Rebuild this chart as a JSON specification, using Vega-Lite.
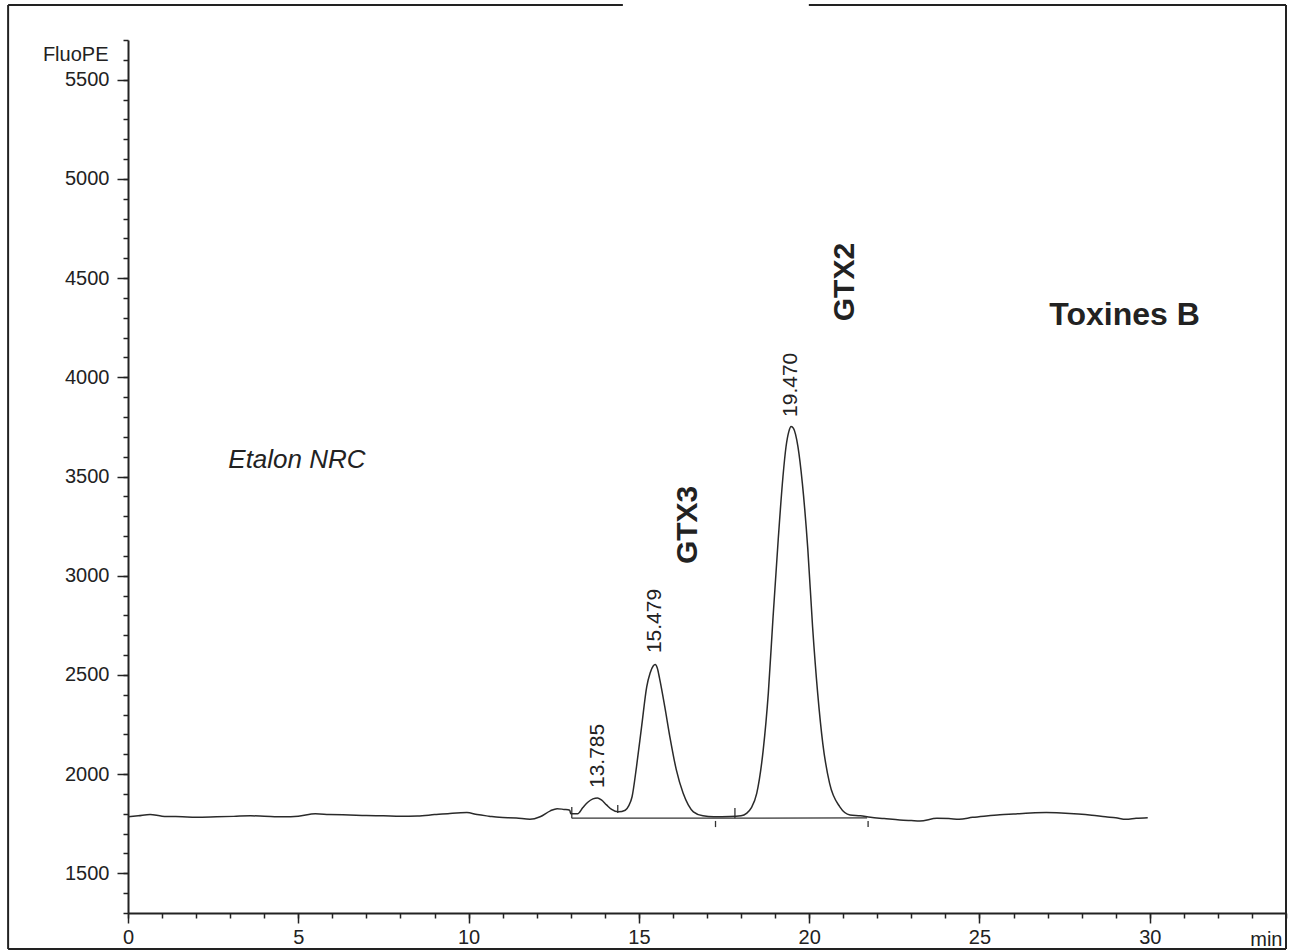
{
  "$schema": "https://vega.github.io/schema/vega-lite/v6.json",
  "width": 1158,
  "height": 873,
  "autosize": {"type": "none"},
  "padding": {"left": 128, "top": 40, "right": 10, "bottom": 38},
  "background": "white",
  "config": {
    "view": {"stroke": null},
    "font": "Liberation Sans",
    "text": {"color": "#222", "font": "Liberation Sans"}
  },
  "datasets": {
    "signal": [
      {"t": 0, "v": 1785}, {"t": 0.3, "v": 1790}, {"t": 0.65, "v": 1797}, {"t": 1.0, "v": 1788},
      {"t": 1.6, "v": 1785}, {"t": 2.0, "v": 1783}, {"t": 2.6, "v": 1785}, {"t": 3.1, "v": 1787},
      {"t": 3.6, "v": 1790}, {"t": 4.0, "v": 1788}, {"t": 4.55, "v": 1785}, {"t": 5.0, "v": 1788},
      {"t": 5.5, "v": 1800}, {"t": 5.9, "v": 1797}, {"t": 6.5, "v": 1794}, {"t": 7.0, "v": 1791},
      {"t": 7.5, "v": 1790}, {"t": 8.0, "v": 1788}, {"t": 8.5, "v": 1789}, {"t": 9.0, "v": 1796},
      {"t": 9.45, "v": 1802}, {"t": 9.95, "v": 1806}, {"t": 10.25, "v": 1796}, {"t": 10.6, "v": 1788},
      {"t": 10.9, "v": 1782}, {"t": 11.4, "v": 1779}, {"t": 11.8, "v": 1772}, {"t": 12.1, "v": 1785},
      {"t": 12.4, "v": 1815}, {"t": 12.6, "v": 1826}, {"t": 12.8, "v": 1822}, {"t": 12.97, "v": 1818},
      {"t": 13.0, "v": 1800}, {"t": 13.2, "v": 1800}, {"t": 13.35, "v": 1830}, {"t": 13.5, "v": 1858},
      {"t": 13.65, "v": 1875}, {"t": 13.785, "v": 1880}, {"t": 13.9, "v": 1870}, {"t": 14.05, "v": 1845},
      {"t": 14.2, "v": 1822}, {"t": 14.4, "v": 1810}, {"t": 14.6, "v": 1818}, {"t": 14.7, "v": 1840},
      {"t": 14.8, "v": 1886}, {"t": 14.93, "v": 2037}, {"t": 15.08, "v": 2239}, {"t": 15.23, "v": 2440},
      {"t": 15.33, "v": 2510}, {"t": 15.42, "v": 2545}, {"t": 15.479, "v": 2552}, {"t": 15.54, "v": 2535},
      {"t": 15.61, "v": 2480}, {"t": 15.76, "v": 2340},
      {"t": 15.91, "v": 2188}, {"t": 16.1, "v": 2021}, {"t": 16.3, "v": 1903}, {"t": 16.45, "v": 1845},
      {"t": 16.6, "v": 1810}, {"t": 16.88, "v": 1790}, {"t": 17.2, "v": 1785}, {"t": 17.67, "v": 1786},
      {"t": 18.0, "v": 1790}, {"t": 18.16, "v": 1802}, {"t": 18.3, "v": 1830}, {"t": 18.46, "v": 1903},
      {"t": 18.65, "v": 2121}, {"t": 18.8, "v": 2407}, {"t": 18.94, "v": 2793}, {"t": 19.09, "v": 3180},
      {"t": 19.23, "v": 3499}, {"t": 19.32, "v": 3650}, {"t": 19.4, "v": 3725}, {"t": 19.47, "v": 3752},
      {"t": 19.54, "v": 3742}, {"t": 19.6, "v": 3712},
      {"t": 19.67, "v": 3650}, {"t": 19.8, "v": 3465}, {"t": 19.96, "v": 3134}, {"t": 20.1, "v": 2743},
      {"t": 20.25, "v": 2407}, {"t": 20.4, "v": 2154}, {"t": 20.6, "v": 1953}, {"t": 20.9, "v": 1835},
      {"t": 21.2, "v": 1794}, {"t": 21.5, "v": 1790}, {"t": 21.8, "v": 1782}, {"t": 22.2, "v": 1776},
      {"t": 22.66, "v": 1769}, {"t": 23.0, "v": 1766}, {"t": 23.25, "v": 1764}, {"t": 23.75, "v": 1777},
      {"t": 24.1, "v": 1776}, {"t": 24.4, "v": 1772}, {"t": 24.8, "v": 1782}, {"t": 25.2, "v": 1789},
      {"t": 25.6, "v": 1795}, {"t": 26.0, "v": 1799}, {"t": 26.5, "v": 1804}, {"t": 26.96, "v": 1806},
      {"t": 27.4, "v": 1804}, {"t": 27.9, "v": 1799}, {"t": 28.3, "v": 1793}, {"t": 28.7, "v": 1785},
      {"t": 29.0, "v": 1780}, {"t": 29.3, "v": 1772}, {"t": 29.6, "v": 1777}, {"t": 29.94, "v": 1780}
    ],
    "integration": [
      {"t": 13.03, "t2": 21.7, "v": 1778, "v2": 1779},
      {"t": 13.03, "t2": 13.03, "v": 1778, "v2": 1834},
      {"t": 14.38, "t2": 14.38, "v": 1804, "v2": 1844},
      {"t": 17.25, "t2": 17.25, "v": 1733, "v2": 1764},
      {"t": 17.82, "t2": 17.82, "v": 1778, "v2": 1829},
      {"t": 21.73, "t2": 21.73, "v": 1733, "v2": 1764}
    ],
    "frame": [
      {"x": -3.52, "x2": -3.52, "y": 1118, "y2": 5876},
      {"x": -3.52, "x2": 34, "y": 1118, "y2": 1118},
      {"x": 34, "x2": 34, "y": 1118, "y2": 5876},
      {"x": -3.52, "x2": 14.53, "y": 5876, "y2": 5876},
      {"x": 19.99, "x2": 34, "y": 5876, "y2": 5876}
    ],
    "peaks": [
      {"t": 13.785, "v": 1930, "label": "13.785"},
      {"t": 15.479, "v": 2610, "label": "15.479"},
      {"t": 19.47, "v": 3800, "label": "19.470"}
    ],
    "compounds": [
      {"t": 16.44, "v": 3256, "label": "GTX3"},
      {"t": 21.05, "v": 4480, "label": "GTX2"}
    ],
    "sample": [{"t": 4.96, "v": 3583, "label": "Etalon NRC"}],
    "group": [{"t": 29.26, "v": 4314, "label": "Toxines B"}]
  },
  "layer": [
    {
      "data": {"name": "frame"},
      "mark": {"type": "rule", "color": "#222", "strokeWidth": 2},
      "encoding": {
        "x": {"field": "x", "type": "quantitative", "scale": {"domain": [0, 34], "nice": false, "zero": false}, "axis": null},
        "x2": {"field": "x2"},
        "y": {"field": "y", "type": "quantitative", "scale": {"domain": [1300, 5700], "nice": false, "zero": false}, "axis": null},
        "y2": {"field": "y2"}
      }
    },
    {
      "data": {"name": "integration"},
      "mark": {"type": "rule", "color": "#333", "strokeWidth": 1.3},
      "encoding": {
        "x": {"field": "t", "type": "quantitative", "scale": {"domain": [0, 34], "nice": false, "zero": false},
          "axis": {"orient": "bottom", "values": [0,1,2,3,4,5,6,7,8,9,10,11,12,13,14,15,16,17,18,19,20,21,22,23,24,25,26,27,28,29,30,31,32,33,34], "tickSize": 5, "tickWidth": 1.5, "tickColor": "#222", "labels": false, "domain": false, "grid": false, "title": null}},
        "x2": {"field": "t2"},
        "y": {"field": "v", "type": "quantitative", "scale": {"domain": [1300, 5700], "nice": false, "zero": false},
          "axis": {"orient": "left", "values": [1300,1400,1500,1600,1700,1800,1900,2000,2100,2200,2300,2400,2500,2600,2700,2800,2900,3000,3100,3200,3300,3400,3500,3600,3700,3800,3900,4000,4100,4200,4300,4400,4500,4600,4700,4800,4900,5000,5100,5200,5300,5400,5500,5600,5700], "tickSize": 5, "tickWidth": 1.5, "tickColor": "#222", "labels": false, "domain": false, "grid": false, "title": null}},
        "y2": {"field": "v2"}
      }
    },
    {
      "data": {"name": "signal"},
      "mark": {"type": "line", "color": "#2a2a2a", "strokeWidth": 1.5, "interpolate": "monotone"},
      "encoding": {
        "x": {"field": "t", "type": "quantitative", "scale": {"domain": [0, 34], "nice": false, "zero": false},
          "axis": {"orient": "bottom", "values": [0, 5, 10, 15, 20, 25, 30], "format": "d", "tickSize": 10, "tickWidth": 1.5, "tickColor": "#222", "domainColor": "#222", "domainWidth": 2, "labelFontSize": 20, "labelColor": "#222", "labelPadding": 4, "labelFlush": false, "labelOverlap": false, "grid": false,
            "title": "min", "titleFontSize": 20, "titleFontWeight": "normal", "titleColor": "#222", "titleAnchor": null, "titleX": 1154, "titleY": 32, "titleAlign": "right", "titleBaseline": "alphabetic"}},
        "y": {"field": "v", "type": "quantitative", "scale": {"domain": [1300, 5700], "nice": false, "zero": false},
          "axis": {"orient": "left", "values": [1500, 2000, 2500, 3000, 3500, 4000, 4500, 5000, 5500], "format": "d", "tickSize": 11, "tickWidth": 1.5, "tickColor": "#222", "domainColor": "#222", "domainWidth": 2, "labelFontSize": 20, "labelColor": "#222", "labelPadding": 8, "labelFlush": false, "labelOverlap": false, "grid": false,
            "title": "FluoPE", "titleFontSize": 20, "titleFontWeight": "normal", "titleColor": "#222", "titleAngle": 0, "titleAnchor": null, "titleX": -20, "titleY": 14, "titleAlign": "right", "titleBaseline": "middle"}}
      }
    },
    {
      "data": {"name": "peaks"},
      "mark": {"type": "text", "angle": 270, "align": "left", "baseline": "middle", "fontSize": 21},
      "encoding": {
        "x": {"field": "t", "type": "quantitative", "scale": {"domain": [0, 34], "nice": false, "zero": false}, "axis": null},
        "y": {"field": "v", "type": "quantitative", "scale": {"domain": [1300, 5700], "nice": false, "zero": false}, "axis": null},
        "text": {"field": "label"}
      }
    },
    {
      "data": {"name": "compounds"},
      "mark": {"type": "text", "angle": 270, "align": "center", "baseline": "middle", "fontSize": 30, "fontWeight": "bold"},
      "encoding": {
        "x": {"field": "t", "type": "quantitative", "scale": {"domain": [0, 34], "nice": false, "zero": false}, "axis": null},
        "y": {"field": "v", "type": "quantitative", "scale": {"domain": [1300, 5700], "nice": false, "zero": false}, "axis": null},
        "text": {"field": "label"}
      }
    },
    {
      "data": {"name": "sample"},
      "mark": {"type": "text", "align": "center", "baseline": "middle", "fontSize": 26, "fontStyle": "italic"},
      "encoding": {
        "x": {"field": "t", "type": "quantitative", "scale": {"domain": [0, 34], "nice": false, "zero": false}, "axis": null},
        "y": {"field": "v", "type": "quantitative", "scale": {"domain": [1300, 5700], "nice": false, "zero": false}, "axis": null},
        "text": {"field": "label"}
      }
    },
    {
      "data": {"name": "group"},
      "mark": {"type": "text", "align": "center", "baseline": "middle", "fontSize": 32, "fontWeight": "bold"},
      "encoding": {
        "x": {"field": "t", "type": "quantitative", "scale": {"domain": [0, 34], "nice": false, "zero": false}, "axis": null},
        "y": {"field": "v", "type": "quantitative", "scale": {"domain": [1300, 5700], "nice": false, "zero": false}, "axis": null},
        "text": {"field": "label"}
      }
    }
  ],
  "resolve": {"axis": {"x": "independent", "y": "independent"}}
}
